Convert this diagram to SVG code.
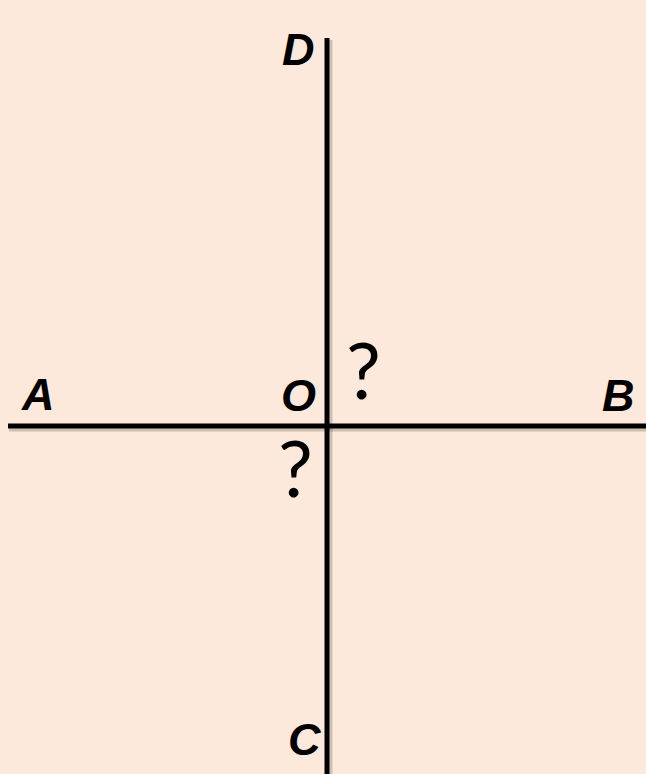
<svg xmlns="http://www.w3.org/2000/svg" width="646" height="774" viewBox="0 0 646 774">
<style>
.lbl{font-family:"Liberation Sans",Arial,sans-serif;font-weight:bold;font-style:italic;font-size:45px;fill:#000}
.q{font-family:Lato,"Liberation Sans",Arial,sans-serif;font-size:78px;fill:#000}
.ln{stroke:#000;stroke-width:5;fill:none}
.sh{stroke:#000;stroke-opacity:0.18;stroke-width:7;fill:none}
</style>
<rect width="646" height="774" fill="#FDE9DB"/>
<g id="connectors">
<line class="sh" x1="9" y1="428" x2="646" y2="428"/>
<line class="sh" x1="329" y1="40" x2="329" y2="774"/>
<line class="ln" x1="8" y1="426" x2="646" y2="426"/>
<line class="ln" x1="327" y1="38" x2="327" y2="774"/>
</g>
<g id="D"><text class="lbl" x="282" y="65">D</text></g>
<g id="A"><text class="lbl" x="22" y="410">A</text></g>
<g id="O"><text class="lbl" x="281" y="411">O</text></g>
<g id="B"><text class="lbl" x="602" y="411">B</text></g>
<g id="C"><text class="lbl" x="288" y="755">C</text></g>
<g id="q1"><text class="q" x="346" y="399">?</text></g>
<g id="q2"><text class="q" x="278" y="497">?</text></g>
</svg>
